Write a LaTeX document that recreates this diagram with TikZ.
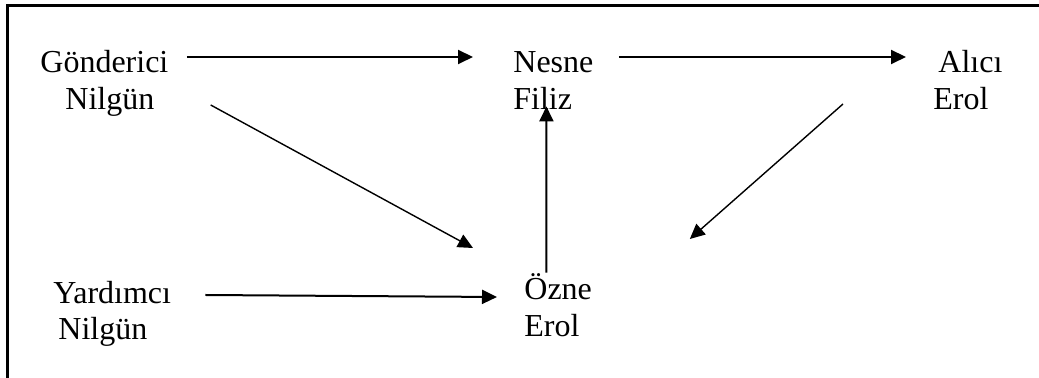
\documentclass[tikz,border=0pt]{standalone}
\usepackage{fontspec}
\setmainfont{Liberation Serif}
\usetikzlibrary{arrows.meta}

\tikzset{
	etiket/.style={inner sep=0pt, anchor=base west, text height=11pt, text depth=3.5pt,
		font=\fontsize{16pt}{18pt}\selectfont},
	ok/.style={-{Triangle[length=7.5pt,width=7pt]}, line width=1pt},
	ince/.style={ok, line width=0.7pt}
}

\begin{document}
\begin{tikzpicture}[x=0.5pt,y=-0.5pt]
		\useasboundingbox (0,0) rectangle (1039,378);

		% cerceve
		\draw[line width=1.5pt] (7,378) -- (7,6) -- (1039,6);

		% gonderici
		\node[etiket] (gon) at (40,73) {Gönderici};
		\node[etiket] (gonb) at (65,110) {Nilgün};

		% nesne
		\node[etiket] (nes) at (513,73) {Nesne};
		\node[etiket] (nesb) at (513,110) {Filiz};

		% alici
		\node[etiket] (ali) at (938,73) {Alıcı};
		\node[etiket] (alib) at (933,110) {Erol};

		% yardimci
		\node[etiket] (yar) at (53,304) {Yardımcı};
		\node[etiket] (yarb) at (58,340) {Nilgün};

		% ozne
		\node[etiket] (ozn) at (524,300) {Özne};
		\node[etiket] (oznb) at (524,337) {Erol};

		% gonderici -> nesne
		\draw[ok, shorten <=9pt, shorten >=20pt] ([yshift=4.25pt]gon.east) -- ([yshift=4.25pt]nes.west);

		% nesne -> alici
		\draw[ok, shorten <=12.5pt, shorten >=16pt] ([yshift=4.25pt]nes.east) -- ([yshift=4.25pt]ali.west);

		% gonderici -> ozne
		\draw[ince] ([xshift=28pt,yshift=-1.25pt]gonb.east) -- ([xshift=-25.5pt,yshift=22.25pt]ozn.west);

		% alici -> ozne
		\draw[ince] ([xshift=-45pt,yshift=-0.75pt]alib.west) -- ([xshift=48.75pt,yshift=26.75pt]ozn.east);

		% ozne -> nesne
		\draw[ok] ([xshift=-5.9pt,yshift=2.5pt]ozn.north) -- ([xshift=1.85pt,yshift=5.5pt]nesb.south);

		% yardimci -> ozne
		\draw[ok] ([xshift=17pt,yshift=0.75pt]yar.east) -- ([xshift=-13.5pt,yshift=-2.25pt]ozn.west);

\end{tikzpicture}
\end{document}
